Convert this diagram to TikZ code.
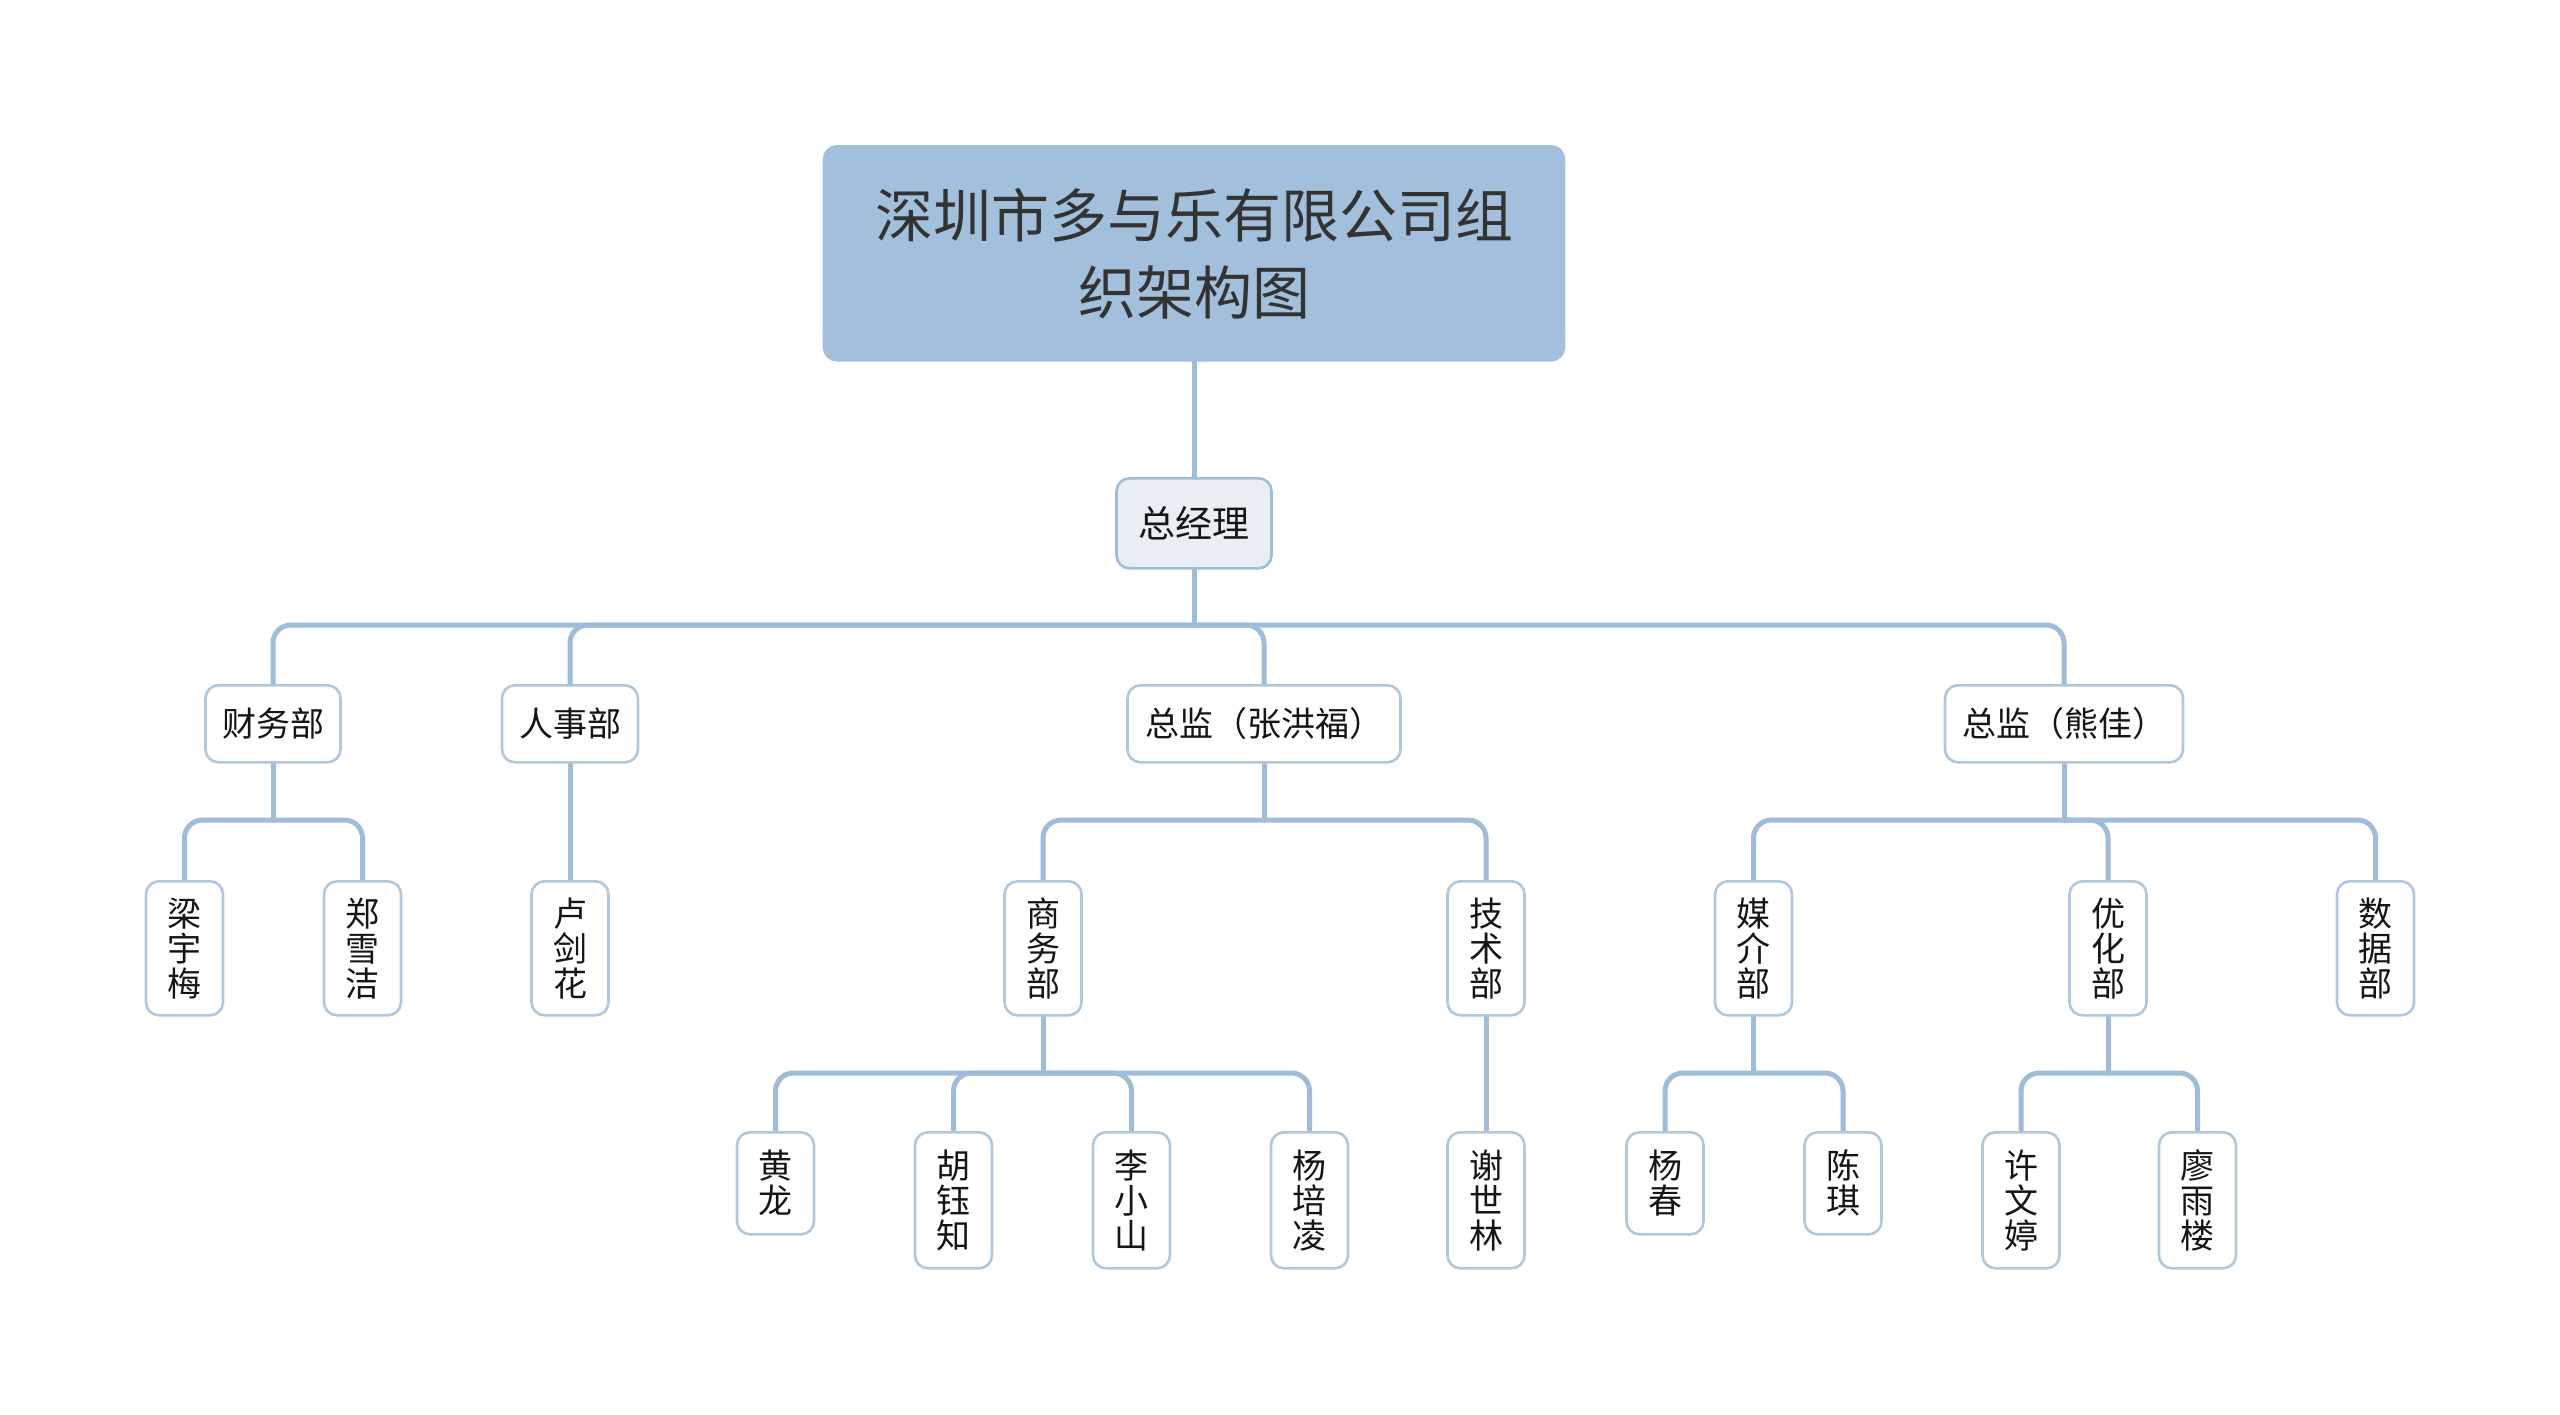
\documentclass[tikz,border=0pt]{standalone}
\usepackage{fontspec}
\newfontfamily\cjk{Noto Sans CJK SC}
\definecolor{lineblue}{HTML}{9FBCD9}
\definecolor{titlefill}{HTML}{A2BFDC}
\definecolor{gmfill}{HTML}{E8EEF4}
\definecolor{boxborder}{HTML}{B0C7DD}
\definecolor{textc}{HTML}{151515}
\pgfdeclarelayer{backlayer}
\pgfdeclarelayer{connlayer}
\pgfsetlayers{backlayer,connlayer,main}
\newcommand\tconn[3]{%
  \draw[conn] (#1.south) -- (#1.south |- 0,#3);
  \draw[bendconn] (#1.south |- 0,#3) -| (#2.north);}
\begin{document}
\begin{tikzpicture}[x=1pt,y=-1pt,
  conn/.style={draw=lineblue, line width=5pt, line cap=round},
  bendconn/.style={conn, rounded corners=18pt},
  box/.style={draw=boxborder, line width=2.6pt, fill=white, rounded corners=13pt,
    anchor=north, inner sep=0pt, text=textc,
    font=\cjk\fontsize{34}{35}\selectfont, align=center},
  hbox/.style={box, minimum height=77pt},
  vbox/.style={box, minimum width=77pt},
]
\begin{pgfonlayer}{backlayer}
\useasboundingbox[fill=white] (0,0) rectangle (2560,1414);
\end{pgfonlayer}

% root
\node[box, draw=titlefill, fill=titlefill, minimum width=740pt, minimum height=214pt,
  font=\cjk\fontsize{58}{77}\selectfont, text=black!80] (title) at (1194,145)
  {深圳市多与乐有限公司组\\织架构图};
\node[box, draw=lineblue, fill=gmfill, minimum width=155pt, minimum height=90pt,
  font=\cjk\fontsize{37}{37}\selectfont] (gm) at (1194,477) {总经理};

% level 1
\node[hbox, minimum width=135pt] (cw) at (273,684) {财务部};
\node[hbox, minimum width=136pt] (rs) at (570,684) {人事部};
\node[hbox, minimum width=273pt] (zj1) at (1264,684) {总监（张洪福）};
\node[hbox, minimum width=238pt] (zj2) at (2064,684) {总监（熊佳）};

% level 2
\node[vbox, minimum height=134pt] (lym) at (184.5,880) {梁\\宇\\梅};
\node[vbox, minimum height=134pt] (zxj) at (362.5,880) {郑\\雪\\洁};
\node[vbox, minimum height=134pt] (ljh) at (570,880) {卢\\剑\\花};
\node[vbox, minimum height=134pt] (sw) at (1043,880) {商\\务\\部};
\node[vbox, minimum height=134pt] (js) at (1486,880) {技\\术\\部};
\node[vbox, minimum height=134pt] (mj) at (1753.5,880) {媒\\介\\部};
\node[vbox, minimum height=134pt] (yh) at (2108,880) {优\\化\\部};
\node[vbox, minimum height=134pt] (sj) at (2375.5,880) {数\\据\\部};

% level 3
\node[vbox, minimum height=102pt] (hl) at (775.5,1131) {黄\\龙};
\node[vbox, minimum height=136pt] (hyz) at (953.5,1131) {胡\\钰\\知};
\node[vbox, minimum height=136pt] (lxs) at (1131.5,1131) {李\\小\\山};
\node[vbox, minimum height=136pt] (ypl) at (1309.5,1131) {杨\\培\\凌};
\node[vbox, minimum height=136pt] (xsl) at (1486,1131) {谢\\世\\林};
\node[vbox, minimum height=102pt] (yc) at (1665,1131) {杨\\春};
\node[vbox, minimum height=102pt] (cq) at (1843,1131) {陈\\琪};
\node[vbox, minimum height=136pt] (xwt) at (2021,1131) {许\\文\\婷};
\node[vbox, minimum height=136pt] (lyl) at (2197.5,1131) {廖\\雨\\楼};

% connectors
\begin{pgfonlayer}{connlayer}
\draw[conn] (title.south) -- (gm.north);
\tconn{gm}{cw}{625}
\tconn{gm}{rs}{625}
\tconn{gm}{zj1}{625}
\tconn{gm}{zj2}{625}
\tconn{cw}{lym}{820}
\tconn{cw}{zxj}{820}
\draw[conn] (rs.south) -- (ljh.north);
\tconn{zj1}{sw}{820}
\tconn{zj1}{js}{820}
\tconn{zj2}{mj}{820}
\tconn{zj2}{yh}{820}
\tconn{zj2}{sj}{820}
\tconn{sw}{hl}{1073}
\tconn{sw}{hyz}{1073}
\tconn{sw}{lxs}{1073}
\tconn{sw}{ypl}{1073}
\draw[conn] (js.south) -- (xsl.north);
\tconn{mj}{yc}{1073}
\tconn{mj}{cq}{1073}
\tconn{yh}{xwt}{1073}
\tconn{yh}{lyl}{1073}
\end{pgfonlayer}
\end{tikzpicture}
\end{document}
